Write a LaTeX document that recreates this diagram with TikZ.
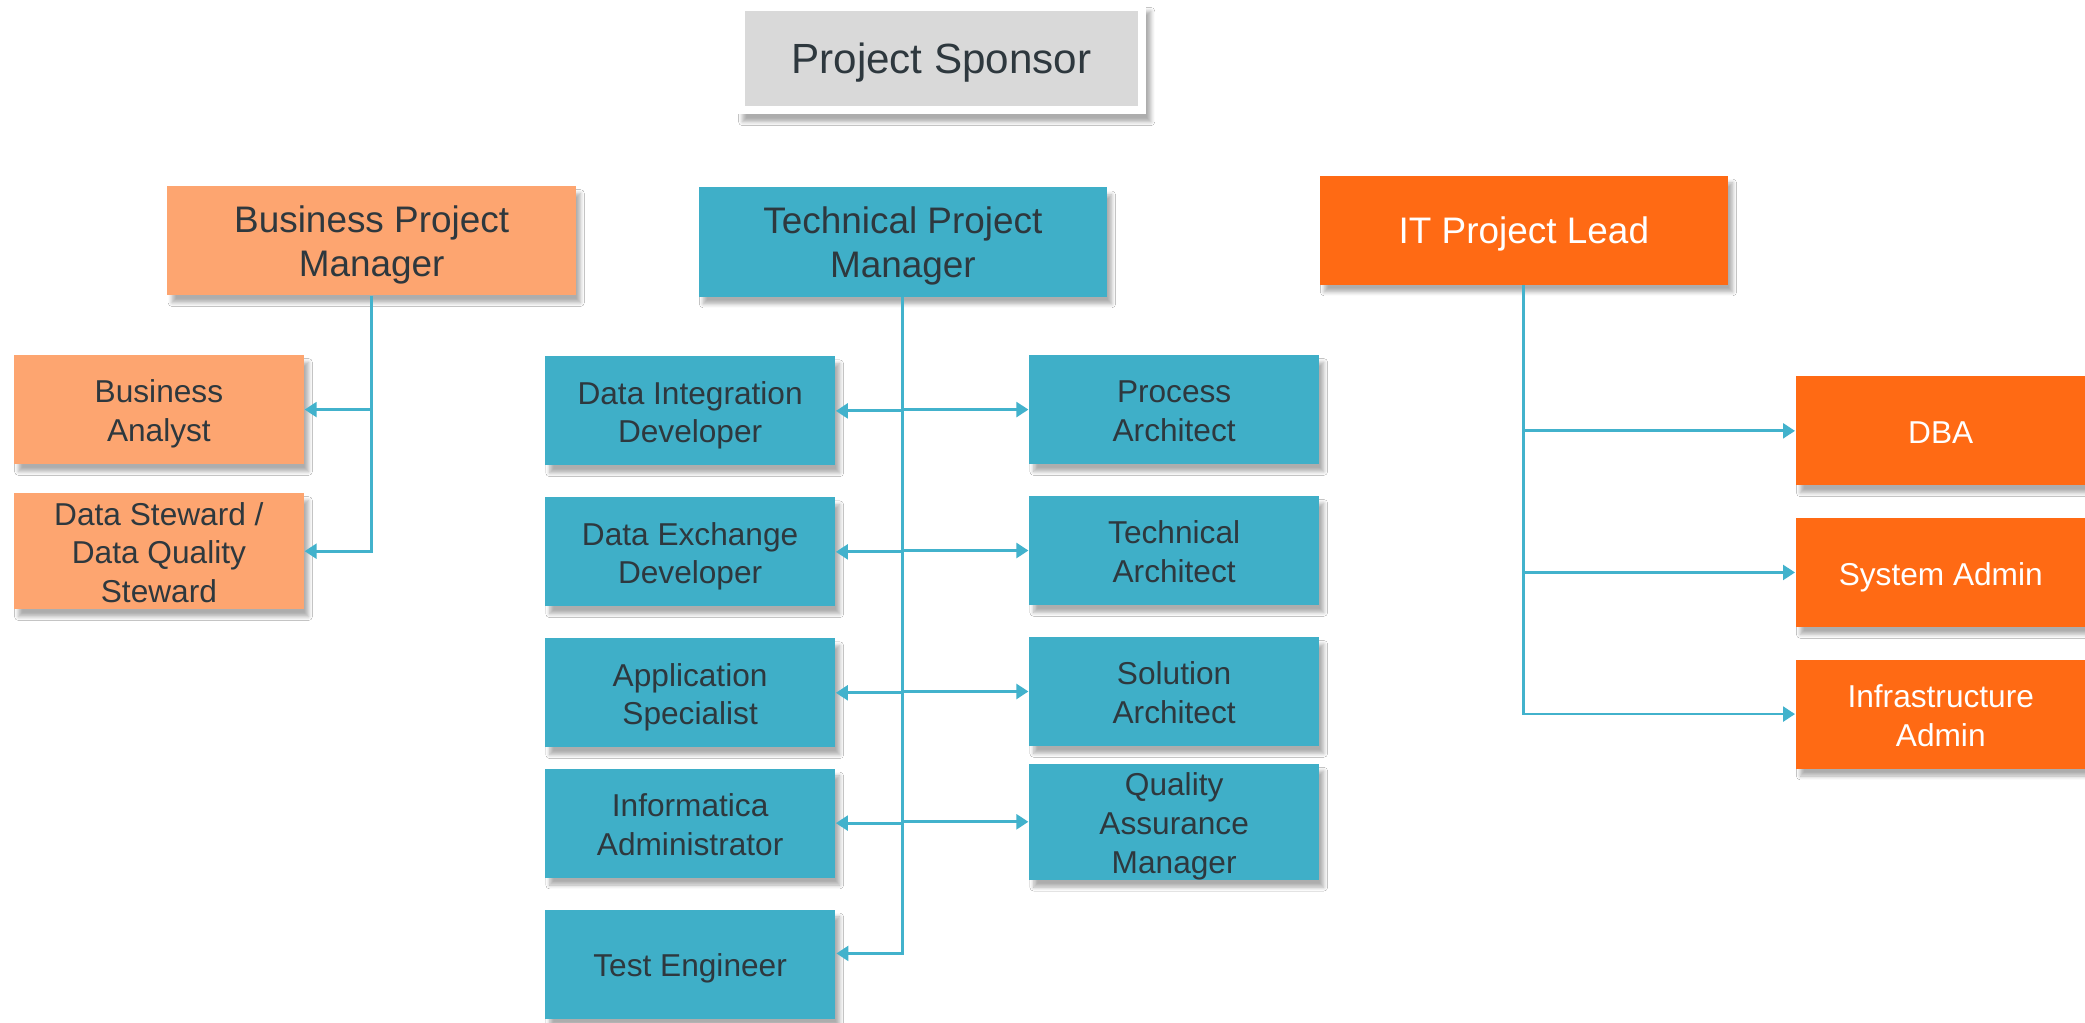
\documentclass[tikz,border=0pt]{standalone}
\usepackage{fontspec}
\setmainfont{Liberation Sans}
\usetikzlibrary{arrows.meta,shadows,shadows.blur}
\definecolor{txt}{RGB}{46,56,62}
\definecolor{sgray}{RGB}{217,217,217}
\definecolor{lorange}{RGB}{253,165,112}
\definecolor{teal}{RGB}{63,175,200}
\definecolor{dorange}{RGB}{255,106,20}
\definecolor{line}{RGB}{66,178,204}
\newcommand\lowtxt[1]{\raisebox{-1.4pt}[\height][\depth]{\begin{tabular}{@{}c@{}}#1\end{tabular}}}
\tikzset{
  softshadow/.style={blur shadow={shadow xshift=1.3pt, shadow yshift=-2.1pt,
    shadow blur radius=1.1pt, shadow blur steps=5, shadow opacity=32}},
  box/.style={rectangle, inner sep=0pt, text=txt, softshadow},
  mgr/.style={box, minimum width=4.082cm, minimum height=1.090cm,
    font=\fontsize{10.5}{12.5}\selectfont},
  child/.style={box, minimum width=2.899cm, minimum height=1.090cm,
    font=\fontsize{9}{11}\selectfont},
  bizc/.style={fill=lorange},
  techc/.style={fill=teal},
  itc/.style={fill=dorange, text=white},
  conn/.style={draw=line, line width=0.8pt},
  >={Triangle[length=3.4pt,width=4.2pt]}
}
\begin{document}
\begin{tikzpicture}[x=0.013297cm, y=-0.013297cm]
\useasboundingbox[fill=white] (0,0) rectangle (1568,769);
% sponsor
\node[rectangle, fill=white, minimum width=4.082cm, minimum height=1.104cm, softshadow]
  (sframe) at (708.5,44.5) {};
\node[rectangle, fill=sgray, inner sep=0pt, minimum width=3.936cm, minimum height=0.957cm,
  text=txt, font=\fontsize{12}{14}\selectfont] (sponsor) at (708,44) {\lowtxt{Project Sponsor}};
% managers
\node[mgr, bizc] (bpm) at (279.5,181) {\lowtxt{Business Project\\Manager}};
\node[mgr, techc] (tpm) at (679,182) {\lowtxt{Technical Project\\Manager}};
\node[mgr, itc] (itl) at (1146,173) {\lowtxt{IT Project Lead}};
% business
\node[child, bizc] (ba) at (119.5,308) {\lowtxt{Business\\Analyst}};
\node[child, bizc] (ds) at (119.5,414.5) {\lowtxt{Data Steward /\\Data Quality\\Steward}};
% technical
\node[child, techc] (di) at (519,309) {\lowtxt{Data Integration\\Developer}};
\node[child, techc] (pa) at (883,308) {\lowtxt{Process\\Architect}};
\node[child, techc] (de) at (519,415) {\lowtxt{Data Exchange\\Developer}};
\node[child, techc] (ta) at (883,414) {\lowtxt{Technical\\Architect}};
\node[child, techc] (as) at (519,521) {\lowtxt{Application\\Specialist}};
\node[child, techc] (sa) at (883,520) {\lowtxt{Solution\\Architect}};
\node[child, techc] (ia) at (519,619) {\lowtxt{Informatica\\Administrator}};
\node[child, techc] (qa) at (883,618) {\lowtxt{Quality\\Assurance\\Manager}};
\node[child, techc] (te) at (519,725) {\lowtxt{Test Engineer}};
% IT
\node[child, itc] (dba) at (1459.5,324) {\lowtxt{DBA}};
\node[child, itc] (sys) at (1459.5,430.5) {\lowtxt{System Admin}};
\node[child, itc] (inf) at (1459.5,537) {\lowtxt{Infrastructure\\Admin}};
% connectors business
\draw[conn,->] (bpm.south) |- (ds.east);
\draw[conn,->] (bpm.south |- ba.east) -- (ba.east);
% connectors technical
\coordinate (teIn) at (629,717);
\draw[conn,->] (tpm.south) |- (teIn);
\draw[conn,->] (tpm.south |- di.east) -- (di.east);
\draw[conn,->] (tpm.south |- pa.west) -- (pa.west);
\draw[conn,->] (tpm.south |- de.east) -- (de.east);
\draw[conn,->] (tpm.south |- ta.west) -- (ta.west);
\draw[conn,->] (tpm.south |- as.east) -- (as.east);
\draw[conn,->] (tpm.south |- sa.west) -- (sa.west);
\draw[conn,->] (tpm.south |- ia.east) -- (ia.east);
\draw[conn,->] (tpm.south |- qa.west) -- (qa.west);
% connectors IT
\draw[conn,->] (itl.south) |- (inf.west);
\draw[conn,->] (itl.south |- dba.west) -- (dba.west);
\draw[conn,->] (itl.south |- sys.west) -- (sys.west);
\end{tikzpicture}
\end{document}
